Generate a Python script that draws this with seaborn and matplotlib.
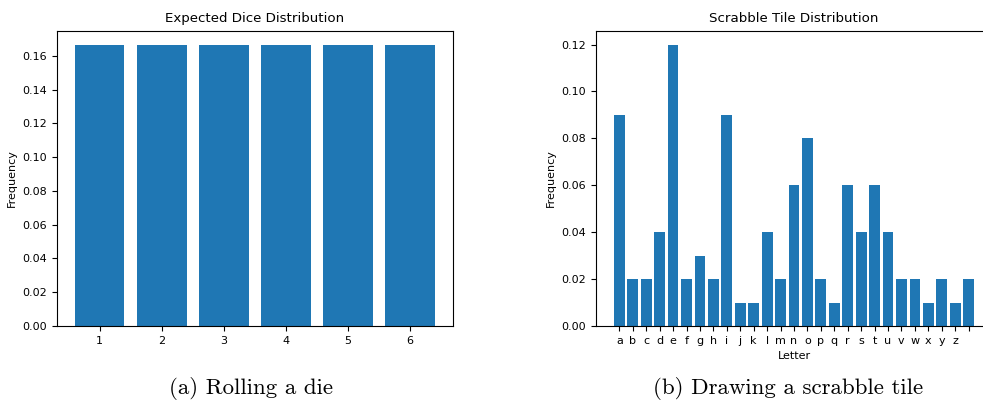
import matplotlib
matplotlib.use("Agg")
import matplotlib.pyplot as plt
import seaborn as sns
import pandas as pd

# Data
dice_faces = ["1", "2", "3", "4", "5", "6"]
dice_freq = [1/6, 1/6, 1/6, 1/6, 1/6, 1/6]

letters = list("abcdefghijklmnopqrstuvwxyz") + [" "]
letter_freq = [0.09, 0.02, 0.02, 0.04, 0.12, 0.02, 0.03, 0.02, 0.09, 0.01,
               0.01, 0.04, 0.02, 0.06, 0.08, 0.02, 0.01, 0.06, 0.04, 0.06,
               0.04, 0.02, 0.02, 0.01, 0.02, 0.01, 0.02]

titles = ["Expected Dice Distribution", "Scrabble Tile Distribution"]
captions = ["(a) Rolling a die", "(b) Drawing a scrabble tile"]

sns.set_style("ticks", rc={
    "text.color": "black", "axes.labelcolor": "black",
    "xtick.color": "black", "ytick.color": "black",
    "axes.edgecolor": "black",
})
plt.rcParams["font.family"] = ["DejaVu Sans"]

W, H = 983, 400
fig = plt.figure(figsize=(W / 100, H / 100), dpi=100)

def rect(x0, x1, y0, y1):
    return [x0 / W, 1 - y1 / H, (x1 - x0) / W, (y1 - y0) / H]

ax1 = fig.add_axes(rect(56.7, 453, 30.5, 326))
ax2 = fig.add_axes(rect(596, 992, 30.5, 326))

blue = "#1f77b4"
fs_tick = 8
fs_title = 9.6

df1 = pd.DataFrame({"face": dice_faces, "freq": dice_freq})
sns.barplot(data=df1, x="face", y="freq", color=blue, saturation=1,
            width=0.8, ax=ax1, errorbar=None, linewidth=0, edgecolor="none")
ax1.set_xlabel("")
ax1.set_ylabel("Frequency", fontsize=fs_tick)
ax1.set_title(titles[0], fontsize=fs_title)

df2 = pd.DataFrame({"letter": letters, "freq": letter_freq})
sns.barplot(data=df2, x="letter", y="freq", color=blue, saturation=1,
            width=0.8, ax=ax2, errorbar=None, linewidth=0, edgecolor="none")
ax2.set_xlabel("Letter", fontsize=fs_tick)
ax2.set_ylabel("Frequency", fontsize=fs_tick)
ax2.set_title(titles[1], fontsize=fs_title)

for ax in (ax1, ax2):
    ax.set_autoscalex_on(True)
    ax.margins(x=0.05, y=0.05)
    ax.autoscale_view()
    ax.tick_params(labelsize=fs_tick, length=3.5, width=0.8, color="black")
    for s in ax.spines.values():
        s.set_visible(True)
        s.set_linewidth(0.8)
        s.set_color("black")
    ax.set_facecolor("white")
    ax.grid(False)
    ax.yaxis.set_major_formatter(matplotlib.ticker.FormatStrFormatter("%.2f"))

ax1.set_ylim(0, max(dice_freq) * 1.05)
ax2.set_ylim(0, max(letter_freq) * 1.05)

fig.text(251 / W, 1 - 388 / H, captions[0], ha="center", va="center",
         fontsize=16.5, family="cmr10")
fig.text(788 / W, 1 - 388 / H, captions[1], ha="center", va="center",
         fontsize=16.5, family="cmr10")

fig.savefig("out.png", dpi=100, facecolor="white")
